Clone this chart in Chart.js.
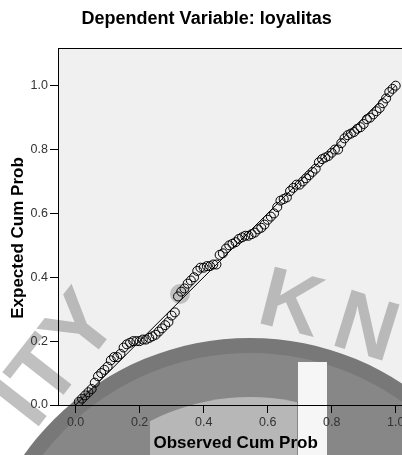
<!DOCTYPE html>
<html>
<head>
<meta charset="utf-8">
<title>Normal P-P Plot</title>
<script src="https://cdn.jsdelivr.net/npm/chart.js@4.4.0/dist/chart.umd.min.js"></script>
<style>
  html, body { margin: 0; padding: 0; background: #fff; overflow: hidden; }
  #wrap { width: 420px; height: 455px; }
</style>
</head>
<body>
<div id="wrap"><canvas id="ppChart" width="420" height="455"></canvas></div>
<script>
// values
const observedCumProb = [
  0.01, 0.02, 0.03, 0.04, 0.05, 0.06, 0.07, 0.08, 0.09, 0.10,
  0.11, 0.12, 0.13, 0.14, 0.15, 0.16, 0.17, 0.18, 0.19, 0.20,
  0.21, 0.22, 0.23, 0.24, 0.25, 0.26, 0.27, 0.28, 0.29, 0.30,
  0.31, 0.32, 0.33, 0.34, 0.35, 0.36, 0.37, 0.38, 0.39, 0.40,
  0.41, 0.42, 0.43, 0.44, 0.45, 0.46, 0.47, 0.48, 0.49, 0.50,
  0.51, 0.52, 0.53, 0.54, 0.55, 0.56, 0.57, 0.58, 0.59, 0.60,
  0.61, 0.62, 0.63, 0.64, 0.65, 0.66, 0.67, 0.68, 0.69, 0.70,
  0.71, 0.72, 0.73, 0.74, 0.75, 0.76, 0.77, 0.78, 0.79, 0.80,
  0.81, 0.82, 0.83, 0.84, 0.85, 0.86, 0.87, 0.88, 0.89, 0.90,
  0.91, 0.92, 0.93, 0.94, 0.95, 0.96, 0.97, 0.98, 0.99, 1.00
];
const expectedCumProb = [
  0.010, 0.020, 0.030, 0.040, 0.050, 0.070, 0.090, 0.100, 0.110, 0.120,
  0.140, 0.150, 0.150, 0.160, 0.180, 0.190, 0.195, 0.200, 0.200, 0.200,
  0.205, 0.205, 0.210, 0.215, 0.220, 0.230, 0.240, 0.250, 0.260, 0.280,
  0.290, 0.340, 0.355, 0.365, 0.380, 0.390, 0.400, 0.420, 0.430, 0.430,
  0.435, 0.435, 0.440, 0.440, 0.470, 0.475, 0.490, 0.500, 0.505, 0.510,
  0.520, 0.525, 0.530, 0.530, 0.535, 0.540, 0.550, 0.555, 0.565, 0.580,
  0.590, 0.600, 0.620, 0.640, 0.645, 0.650, 0.670, 0.680, 0.690, 0.690,
  0.700, 0.710, 0.720, 0.730, 0.740, 0.760, 0.770, 0.775, 0.780, 0.790,
  0.800, 0.800, 0.820, 0.835, 0.845, 0.850, 0.855, 0.865, 0.870, 0.880,
  0.895, 0.900, 0.910, 0.920, 0.930, 0.945, 0.960, 0.980, 0.990, 1.000
];
const diagonal = [0, 1];
const tickValues = [0.0, 0.2, 0.4, 0.6, 0.8, 1.0];

const FONT = "'Liberation Sans', Arial, Helvetica, sans-serif";
Chart.defaults.font.family = FONT;

function letter(ctx, ch, x, y, angle, size, color) {
  ctx.save();
  ctx.translate(x, y);
  ctx.rotate(angle);
  ctx.font = 'bold ' + size + 'px ' + FONT;
  ctx.fillStyle = color;
  ctx.fillText(ch, 0, 0);
  ctx.restore();
}

// background, plot fill and the grey watermark behind everything
const backdrop = {
  id: 'backdrop',
  beforeDraw(chart) {
    const { ctx, chartArea: a } = chart;
    ctx.save();
    ctx.fillStyle = '#fff';
    ctx.fillRect(0, 0, chart.width, chart.height);
    ctx.fillStyle = '#f0f0f0';
    ctx.fillRect(a.left, a.top, a.right - a.left, a.bottom - a.top);

    // watermark letters
    const wm = 'rgba(140,140,140,0.55)';
    ctx.save();
    ctx.translate(35, 431);
    ctx.rotate(-0.907);
    ctx.font = 'bold 90px ' + FONT;
    ctx.fillStyle = wm;
    ctx.fillText('ITY', 0, 0);
    ctx.restore();
    letter(ctx, 'K', 255, 322, 0.25, 85, wm);
    letter(ctx, 'N', 329, 344, 0.3, 85, wm);
    letter(ctx, 'O', 400, 368, 0.38, 85, wm);

    // big ring
    ctx.beginPath();
    ctx.arc(250, 615, 277, 0, Math.PI * 2);
    ctx.fillStyle = '#787878';
    ctx.fill();
    ctx.beginPath();
    ctx.arc(250, 615, 262, 0, Math.PI * 2);
    ctx.fillStyle = '#878787';
    ctx.fill();
    ctx.save();
    ctx.beginPath();
    ctx.rect(150, 300, 147, 200);
    ctx.clip();
    ctx.beginPath();
    ctx.arc(250, 615, 218, 0, Math.PI * 2);
    ctx.fillStyle = '#b7b7b7';
    ctx.fill();
    ctx.restore();
    ctx.fillStyle = '#f6f6f6';
    ctx.fillRect(298, 362, 29, 100);

    // soft dot
    ctx.beginPath();
    ctx.arc(180, 294, 10, 0, Math.PI * 2);
    ctx.fillStyle = 'rgba(120,120,120,0.4)';
    ctx.fill();
    ctx.restore();
  }
};

// frame around plot and the rotated y title
const frame = {
  id: 'frame',
  afterDraw(chart) {
    const { ctx, chartArea: a } = chart;
    ctx.save();
    ctx.strokeStyle = '#000';
    ctx.lineWidth = 1;
    ctx.beginPath();
    ctx.moveTo(Math.round(a.left) + 0.5, Math.round(a.bottom) + 0.5);
    ctx.lineTo(Math.round(a.left) + 0.5, Math.round(a.top) + 0.5);
    ctx.lineTo(Math.round(a.right) + 0.5, Math.round(a.top) + 0.5);
    ctx.lineTo(Math.round(a.right) + 0.5, Math.round(a.bottom) + 0.5);
    ctx.stroke();

    ctx.translate(18, 238);
    ctx.rotate(-Math.PI / 2);
    ctx.font = 'bold 17px ' + FONT;
    ctx.fillStyle = '#000';
    ctx.textAlign = 'center';
    ctx.textBaseline = 'middle';
    ctx.fillText('Expected Cum Prob', 0, 0);
    ctx.restore();
  }
};

const points = observedCumProb.map((x, i) => ({ x: x, y: expectedCumProb[i] }));

new Chart(document.getElementById('ppChart'), {
  type: 'scatter',
  data: {
    datasets: [
      {
        type: 'line',
        data: diagonal.map(v => ({ x: v, y: v })),
        borderColor: '#000',
        borderWidth: 1,
        pointRadius: 0,
        fill: false
      },
      {
        data: points,
        pointStyle: 'circle',
        pointRadius: 4.5,
        borderColor: '#000',
        borderWidth: 1,
        backgroundColor: 'rgba(0,0,0,0)'
      }
    ]
  },
  options: {
    responsive: false,
    animation: false,
    devicePixelRatio: 1,
    layout: { padding: { left: 0, right: 6.7, top: 0, bottom: 0 } },
    plugins: {
      legend: { display: false },
      tooltip: { enabled: false },
      title: {
        display: true,
        text: 'Dependent Variable: loyalitas',
        color: '#000',
        font: { size: 18, weight: 'bold' },
        padding: { top: 8, bottom: 18.4 }
      }
    },
    scales: {
      x: {
        type: 'linear',
        min: -0.055,
        max: 1.055,
        afterFit: s => { s.height = 50; },
        afterBuildTicks: s => { s.ticks = tickValues.map(v => ({ value: v })); },
        grid: { drawOnChartArea: false, color: '#000', tickLength: 8 },
        border: { color: '#000' },
        ticks: { color: '#333', font: { size: 12.5 }, padding: 2, callback: v => v.toFixed(1) },
        title: {
          display: true,
          text: 'Observed Cum Prob',
          color: '#000',
          font: { size: 17, weight: 'bold' },
          padding: { top: 0, bottom: 1 }
        }
      },
      y: {
        type: 'linear',
        min: 0,
        max: 1.118,
        afterFit: s => { s.width = 58; },
        afterBuildTicks: s => { s.ticks = tickValues.map(v => ({ value: v })); },
        grid: { drawOnChartArea: false, color: '#000', tickLength: 8 },
        border: { color: '#000' },
        ticks: { color: '#333', font: { size: 12.5 }, padding: 2, callback: v => v.toFixed(1) }
      }
    }
  },
  plugins: [backdrop, frame]
});
</script>
</body>
</html>
